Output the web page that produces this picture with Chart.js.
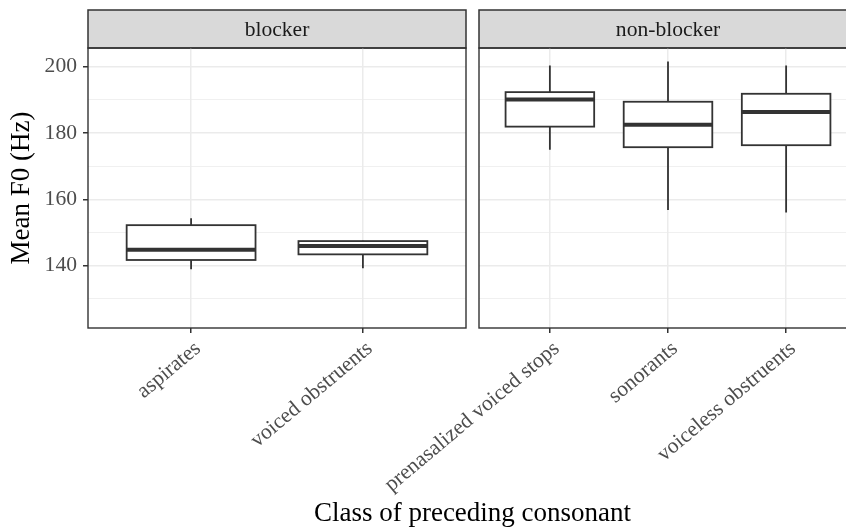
<!DOCTYPE html>
<html>
<head>
<meta charset="utf-8">
<script src="https://cdn.jsdelivr.net/npm/chart.js@4.4.1/dist/chart.umd.min.js"></script>
<style>
  html, body { margin: 0; padding: 0; background: #fff; }
  #wrap { position: relative; width: 846px; height: 528px; overflow: hidden; background: #fff; }
  canvas { position: absolute; top: 0; }
  .strip {
    position: absolute; top: 10px; height: 38px;
    font-family: 'Liberation Serif', 'Times New Roman', serif; font-size: 21.6px;
    color: #1A1A1A; text-align: center; line-height: 38px; white-space: nowrap;
  }
  #xtitle {
    position: absolute; left: 88px; width: 769px; top: 499px; text-align: center;
    font-family: 'Liberation Serif', 'Times New Roman', serif; font-size: 27px;
    line-height: 27px; color: #000; white-space: nowrap;
  }
</style>
</head>
<body>
<div id="wrap">
  <canvas id="left" width="470" height="528" style="left:0px"></canvas>
  <canvas id="right" width="570" height="528" style="left:300px"></canvas>
  <div class="strip" style="left:88px; width:378px;">blocker</div>
  <div class="strip" style="left:479px; width:378px;">non-blocker</div>
  <div id="xtitle">Class of preceding consonant</div>
</div>
<script>
// Facet "blocker"
const blockerCats = ['aspirates', 'voiced obstruents'];
const blockerLow  = [138.9, 139.2];
const blockerQ1   = [141.7, 143.4];
const blockerMed  = [144.8, 145.9];
const blockerQ3   = [152.2, 147.4];
const blockerHigh = [154.3, 147.5];

// Facet "non-blocker"
const nonBlockerCats = ['prenasalized voiced stops', 'sonorants', 'voiceless obstruents'];
const nonBlockerLow  = [174.9, 156.8, 156.0];
const nonBlockerQ1   = [181.9, 175.7, 176.3];
const nonBlockerMed  = [190.1, 182.5, 186.3];
const nonBlockerQ3   = [192.3, 189.4, 191.8];
const nonBlockerHigh = [200.3, 201.5, 200.3];

// Shared y axis
const yMajorTicks = [140, 160, 180, 200];
const yMinorTicks = [130, 150, 170, 190];
const yMin = 121.2;
const yMax = 205.6;

const SERIF = "'Liberation Serif', 'Times New Roman', serif";
const LINE = '#333333';
const GRID = '#EBEBEB';
const STRIP_TOP = 10;

// Strip header, whiskers behind the boxes, box outline and median on top, panel frame last.
const boxplotParts = {
  id: 'boxplotParts',
  beforeDraw(chart) {
    const { ctx, chartArea: a } = chart;
    ctx.save();
    ctx.fillStyle = '#D9D9D9';
    ctx.fillRect(a.left, STRIP_TOP, a.right - a.left, a.top - STRIP_TOP);
    ctx.strokeStyle = LINE;
    ctx.lineWidth = 1.5;
    ctx.strokeRect(a.left, STRIP_TOP, a.right - a.left, a.top - STRIP_TOP);
    ctx.restore();
  },
  beforeDatasetsDraw(chart, args, opts) {
    const { ctx, scales: { x, y } } = chart;
    ctx.save();
    ctx.strokeStyle = LINE;
    ctx.lineWidth = 1.8;
    opts.low.forEach((lo, i) => {
      const px = x.getPixelForValue(i + 1);
      ctx.beginPath();
      ctx.moveTo(px, y.getPixelForValue(lo));
      ctx.lineTo(px, y.getPixelForValue(opts.q1[i]));
      ctx.moveTo(px, y.getPixelForValue(opts.q3[i]));
      ctx.lineTo(px, y.getPixelForValue(opts.high[i]));
      ctx.stroke();
    });
    ctx.restore();
  },
  afterDatasetsDraw(chart, args, opts) {
    const { ctx, scales: { y } } = chart;
    const bars = chart.getDatasetMeta(0).data;
    ctx.save();
    ctx.strokeStyle = LINE;
    bars.forEach((bar, i) => {
      const { x, width } = bar.getProps(['x', 'width'], true);
      const l = x - width / 2, r = x + width / 2;
      const top = y.getPixelForValue(opts.q3[i]);
      const bot = y.getPixelForValue(opts.q1[i]);
      ctx.lineWidth = 1.8;
      ctx.strokeRect(l, top, r - l, bot - top);
      const m = y.getPixelForValue(opts.med[i]);
      ctx.lineWidth = 4;
      ctx.beginPath();
      ctx.moveTo(l, m);
      ctx.lineTo(r, m);
      ctx.stroke();
    });
    ctx.restore();
  },
  afterDraw(chart) {
    const { ctx, chartArea: a } = chart;
    ctx.save();
    ctx.strokeStyle = LINE;
    ctx.lineWidth = 1.4;
    ctx.strokeRect(a.left, a.top, a.right - a.left, a.bottom - a.top);
    ctx.restore();
  }
};

function yScale(showLabels) {
  const all = [...yMinorTicks, ...yMajorTicks].sort((a, b) => a - b);
  const isMajor = v => yMajorTicks.includes(v);
  return {
    type: 'linear',
    min: yMin,
    max: yMax,
    afterBuildTicks: s => { s.ticks = all.map(v => ({ value: v })); },
    afterFit: s => { s.width = showLabels ? 88 : 0; },
    border: { display: false },
    grid: {
      color: GRID,
      lineWidth: c => (c.tick && isMajor(c.tick.value)) ? 1.5 : 0.75,
      drawTicks: showLabels,
      tickLength: 5,
      tickWidth: 1.5,
      tickColor: c => (c.tick && isMajor(c.tick.value)) ? LINE : 'rgba(0,0,0,0)'
    },
    ticks: {
      display: showLabels,
      autoSkip: false,
      padding: 6,
      color: '#4D4D4D',
      font: { family: SERIF, size: 21.6 },
      callback: v => isMajor(v) ? String(v) : ''
    },
    title: {
      display: showLabels,
      text: 'Mean F0 (Hz)',
      color: '#000',
      font: { family: SERIF, size: 27 },
      padding: { top: 6, bottom: 0 }
    }
  };
}

function xScale(cats) {
  return {
    type: 'linear',
    offset: false,
    min: 0.4,
    max: cats.length + 0.6,
    afterBuildTicks: s => { s.ticks = cats.map((c, i) => ({ value: i + 1 })); },
    afterFit: s => { s.height = 200; },
    border: { display: false },
    grid: { offset: false, color: GRID, lineWidth: 1.5, tickLength: 5, tickWidth: 1.5, tickColor: LINE },
    ticks: {
      autoSkip: false,
      minRotation: 40,
      maxRotation: 40,
      padding: 3,
      labelOffset: 7,
      color: '#4D4D4D',
      font: { family: SERIF, size: 21.6 },
      callback: v => cats[v - 1] ?? ''
    }
  };
}

function facet(canvasId, cats, low, q1, med, q3, high, isFirst, padding) {
  new Chart(document.getElementById(canvasId), {
    type: 'bar',
    data: {
      datasets: [{
        data: cats.map((c, i) => ({ x: i + 1, y: [q1[i], q3[i]] })),
        backgroundColor: '#FFFFFF',
        borderWidth: 0,
        barPercentage: 0.75,
        categoryPercentage: 1.0
      }]
    },
    options: {
      responsive: false,
      animation: false,
      devicePixelRatio: 1,
      layout: { padding },
      plugins: {
        legend: { display: false },
        tooltip: { enabled: false },
        boxplotParts: { low, q1, med, q3, high }
      },
      scales: { x: xScale(cats), y: yScale(isFirst) }
    },
    plugins: [boxplotParts]
  });
}

facet('left', blockerCats, blockerLow, blockerQ1, blockerMed, blockerQ3, blockerHigh,
      true, { top: 48, left: 0, right: 4, bottom: 0 });
facet('right', nonBlockerCats, nonBlockerLow, nonBlockerQ1, nonBlockerMed, nonBlockerQ3, nonBlockerHigh,
      false, { top: 48, left: 179, right: 13, bottom: 0 });
</script>
</body>
</html>
